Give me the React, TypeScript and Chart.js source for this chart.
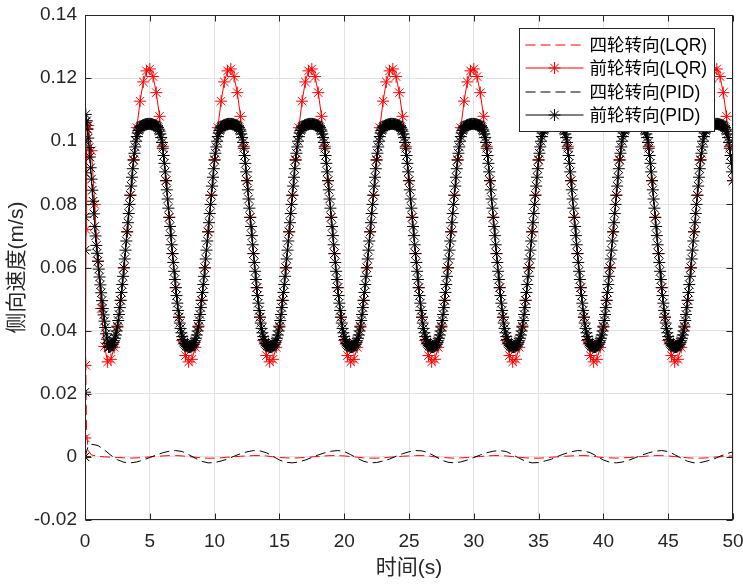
import React, { useEffect, useRef } from "react";
import { Chart, registerables } from "chart.js";

Chart.register(...registerables);

// ---------- text ----------
const seriesNames = ["四轮转向(LQR)", "前轮转向(LQR)", "四轮转向(PID)", "前轮转向(PID)"];
const seriesColors = ["#ff0000", "#ff0000", "#000000", "#000000"];
const xTitle = "时间(s)";
const yTitle = "侧向速度(m/s)";
const xTicks = [0, 5, 10, 15, 20, 25, 30, 35, 40, 45, 50];
const xTickLabels = ["0", "5", "10", "15", "20", "25", "30", "35", "40", "45", "50"];
const yTicks = [-0.02, 0, 0.02, 0.04, 0.06, 0.08, 0.1, 0.12, 0.14];
const yTickLabels = ["-0.02", "0", "0.02", "0.04", "0.06", "0.08", "0.1", "0.12", "0.14"];

// ---------- 四轮转向(LQR): red dashed ----------
const lqr4HeadTime = [0, 0.05, 0.12, 0.25];
const lqr4HeadValue = [0, 0.032, 0.008, 0.002];
const lqr4GridStart = 0.5;
const lqr4GridStep = 0.5;
const lqr4Values = [
  0.0006, 0.0002, 0.0, -0.0001, -0.0002, -0.0003,
  -0.0004, -0.0003, -0.0002, 0.0, 0.0001, 0.0003, 0.0004, 0.0004, 0.0003, 0.0001, -0.0001, -0.0003, -0.0004,
  -0.0004, -0.0003, -0.0001, 0.0, 0.0002, 0.0003, 0.0004, 0.0004, 0.0003, 0.0, -0.0002, -0.0003,
  -0.0004, -0.0003, -0.0002, 0.0, 0.0001, 0.0003, 0.0004, 0.0004, 0.0003, 0.0001, -0.0001, -0.0003, -0.0004,
  -0.0004, -0.0003, -0.0001, 0.0, 0.0002, 0.0003, 0.0004, 0.0004, 0.0003, 0.0, -0.0002, -0.0003,
  -0.0004, -0.0003, -0.0002, 0.0, 0.0001, 0.0003, 0.0004, 0.0004, 0.0003, 0.0001, -0.0001, -0.0003, -0.0004,
  -0.0004, -0.0003, -0.0001, 0.0, 0.0002, 0.0003, 0.0004, 0.0004, 0.0003, 0.0, -0.0002, -0.0003,
  -0.0004, -0.0003, -0.0002, 0.0, 0.0001, 0.0003, 0.0004, 0.0004, 0.0003, 0.0001, -0.0001, -0.0003, -0.0004,
  -0.0004, -0.0003, -0.0001, 0.0, 0.0002, 0.0003,
];

// ---------- 前轮转向(LQR): red solid with * ----------
const lqrFrontHeadTime = [0, 0.03, 0.05, 0.08, 0.12, 0.18];
const lqrFrontHeadValue = [0, 0.006, 0.029, 0.072, 0.095, 0.104];
const lqrFrontGridStart = 0.25;
const lqrFrontGridStep = 0.25;
const lqrFrontValues = [
  0.105, 0.097, 0.080, 0.062, 0.047, 0.035,
  0.0301, 0.0309, 0.0347, 0.0411, 0.0496, 0.0599, 0.0713, 0.0829, 0.0942, 0.1043, 0.1127, 0.1188, 0.1223, 0.1229, 0.1205, 0.1154, 0.1079, 0.0984,
  0.0875, 0.0759, 0.0644, 0.0536, 0.0442, 0.0369, 0.0321, 0.0301, 0.0309, 0.0347, 0.0411, 0.0496, 0.0599, 0.0713, 0.0829, 0.0942, 0.1043, 0.1127, 0.1188, 0.1223, 0.1229, 0.1205, 0.1154, 0.1079, 0.0984,
  0.0875, 0.0759, 0.0644, 0.0536, 0.0442, 0.0369, 0.0321, 0.0301, 0.0309, 0.0347, 0.0411, 0.0496, 0.0599, 0.0713, 0.0829, 0.0942, 0.1043, 0.1127, 0.1188, 0.1223, 0.1229, 0.1205, 0.1154, 0.1079, 0.0984,
  0.0875, 0.0759, 0.0644, 0.0536, 0.0442, 0.0369, 0.0321, 0.0301, 0.0309, 0.0347, 0.0411, 0.0496, 0.0599, 0.0713, 0.0829, 0.0942, 0.1043, 0.1127, 0.1188, 0.1223, 0.1229, 0.1205, 0.1154, 0.1079, 0.0984,
  0.0875, 0.0759, 0.0644, 0.0536, 0.0442, 0.0369, 0.0321, 0.0301, 0.0309, 0.0347, 0.0411, 0.0496, 0.0599, 0.0713, 0.0829, 0.0942, 0.1043, 0.1127, 0.1188, 0.1223, 0.1229, 0.1205, 0.1154, 0.1079, 0.0984,
  0.0875, 0.0759, 0.0644, 0.0536, 0.0442, 0.0369, 0.0321, 0.0301, 0.0309, 0.0347, 0.0411, 0.0496, 0.0599, 0.0713, 0.0829, 0.0942, 0.1043, 0.1127, 0.1188, 0.1223, 0.1229, 0.1205, 0.1154, 0.1079, 0.0984,
  0.0875, 0.0759, 0.0644, 0.0536, 0.0442, 0.0369, 0.0321, 0.0301, 0.0309, 0.0347, 0.0411, 0.0496, 0.0599, 0.0713, 0.0829, 0.0942, 0.1043, 0.1127, 0.1188, 0.1223, 0.1229, 0.1205, 0.1154, 0.1079, 0.0984,
  0.0875, 0.0759, 0.0644, 0.0536, 0.0442, 0.0369, 0.0321, 0.0301, 0.0309, 0.0347, 0.0411, 0.0496, 0.0599, 0.0713, 0.0829, 0.0942, 0.1043, 0.1127, 0.1188, 0.1223, 0.1229, 0.1205, 0.1154, 0.1079, 0.0984,
  0.0875,
];

// ---------- 四轮转向(PID): black dashed ----------
const pid4HeadTime = [0, 0.25];
const pid4HeadValue = [0, 0.0035];
const pid4GridStart = 0.5;
const pid4GridStep = 0.5;
const pid4Values = [
  0.0040, 0.0036, 0.0022, 0.0005, -0.0009, -0.0017,
  -0.0019, -0.0016, -0.0010, -0.0002, 0.0006, 0.0013, 0.0018, 0.0020, 0.0017, 0.0007, -0.0004, -0.0014, -0.0019,
  -0.0018, -0.0013, -0.0007, 0.0002, 0.0010, 0.0016, 0.0020, 0.0019, 0.0013, 0.0002, -0.0010, -0.0017,
  -0.0019, -0.0016, -0.0010, -0.0002, 0.0006, 0.0013, 0.0018, 0.0020, 0.0017, 0.0007, -0.0004, -0.0014, -0.0019,
  -0.0018, -0.0013, -0.0007, 0.0002, 0.0010, 0.0016, 0.0020, 0.0019, 0.0013, 0.0002, -0.0010, -0.0017,
  -0.0019, -0.0016, -0.0010, -0.0002, 0.0006, 0.0013, 0.0018, 0.0020, 0.0017, 0.0007, -0.0004, -0.0014, -0.0019,
  -0.0018, -0.0013, -0.0007, 0.0002, 0.0010, 0.0016, 0.0020, 0.0019, 0.0013, 0.0002, -0.0010, -0.0017,
  -0.0019, -0.0016, -0.0010, -0.0002, 0.0006, 0.0013, 0.0018, 0.0020, 0.0017, 0.0007, -0.0004, -0.0014, -0.0019,
  -0.0018, -0.0013, -0.0007, 0.0002, 0.0010, 0.0016,
];

// ---------- 前轮转向(PID): black solid with * ----------
const pidFrontHeadTime = [0, 0.004, 0.008, 0.012, 0.016, 0.02, 0.04];
const pidFrontHeadValue = [0, 0.0205, 0.0655, 0.076, 0.09, 0.1, 0.106];
const pidFrontGridStart = 0.0625;
const pidFrontGridStep = 0.0625;
const pidFrontValues = [
  // t = 0.0625 .. 1.75
  0.1085, 0.1065, 0.1038, 0.101, 0.098, 0.095, 0.0916, 0.088, 0.0845, 0.081, 0.077, 0.073, 0.070, 0.067,
  0.0645, 0.062, 0.0595, 0.057, 0.0545, 0.052, 0.0495, 0.047, 0.045, 0.043, 0.041, 0.039, 0.0373, 0.036,
  // t = 1.8125 .. 6.1875
  0.0348, 0.0348, 0.0349, 0.0351, 0.0354, 0.0357, 0.0362, 0.0368, 0.0376, 0.0386, 0.0399, 0.0414, 0.0432, 0.0451, 0.0473, 0.0496, 0.0521, 0.0546, 0.0572, 0.0599, 0.0627, 0.0655, 0.0684, 0.0713, 0.0742, 0.0771, 0.0800, 0.0829, 0.0858, 0.0886, 0.0913, 0.0940, 0.0962, 0.0982, 0.1000, 0.1015, 0.1026, 0.1034, 0.1039, 0.1043, 0.1046, 0.1048, 0.1050, 0.1051, 0.1052, 0.1053, 0.1054, 0.1054, 0.1055, 0.1055, 0.1055, 0.1055, 0.1055, 0.1054, 0.1054, 0.1053, 0.1052, 0.1051, 0.1050, 0.1048, 0.1046, 0.1043, 0.1038, 0.1032, 0.1023, 0.1012, 0.0996, 0.0978, 0.0955, 0.0930, 0.0903,
  // cycle 2
  0.0875, 0.0846, 0.0817, 0.0788, 0.0759, 0.0730, 0.0701, 0.0672, 0.0644, 0.0616, 0.0588, 0.0562, 0.0536, 0.0511, 0.0487, 0.0464, 0.0443, 0.0424, 0.0407, 0.0393, 0.0381, 0.0372, 0.0364, 0.0359, 0.0355, 0.0352, 0.0350, 0.0349, 0.0348,
  0.0348, 0.0348, 0.0349, 0.0351, 0.0354, 0.0357, 0.0362, 0.0368, 0.0376, 0.0386, 0.0399, 0.0414, 0.0432, 0.0451, 0.0473, 0.0496, 0.0521, 0.0546, 0.0572, 0.0599, 0.0627, 0.0655, 0.0684, 0.0713, 0.0742, 0.0771, 0.0800, 0.0829, 0.0858, 0.0886, 0.0913, 0.0940, 0.0962, 0.0982, 0.1000, 0.1015, 0.1026, 0.1034, 0.1039, 0.1043, 0.1046, 0.1048, 0.1050, 0.1051, 0.1052, 0.1053, 0.1054, 0.1054, 0.1055, 0.1055, 0.1055, 0.1055, 0.1055, 0.1054, 0.1054, 0.1053, 0.1052, 0.1051, 0.1050, 0.1048, 0.1046, 0.1043, 0.1038, 0.1032, 0.1023, 0.1012, 0.0996, 0.0978, 0.0955, 0.0930, 0.0903,
  // cycle 3
  0.0875, 0.0846, 0.0817, 0.0788, 0.0759, 0.0730, 0.0701, 0.0672, 0.0644, 0.0616, 0.0588, 0.0562, 0.0536, 0.0511, 0.0487, 0.0464, 0.0443, 0.0424, 0.0407, 0.0393, 0.0381, 0.0372, 0.0364, 0.0359, 0.0355, 0.0352, 0.0350, 0.0349, 0.0348,
  0.0348, 0.0348, 0.0349, 0.0351, 0.0354, 0.0357, 0.0362, 0.0368, 0.0376, 0.0386, 0.0399, 0.0414, 0.0432, 0.0451, 0.0473, 0.0496, 0.0521, 0.0546, 0.0572, 0.0599, 0.0627, 0.0655, 0.0684, 0.0713, 0.0742, 0.0771, 0.0800, 0.0829, 0.0858, 0.0886, 0.0913, 0.0940, 0.0962, 0.0982, 0.1000, 0.1015, 0.1026, 0.1034, 0.1039, 0.1043, 0.1046, 0.1048, 0.1050, 0.1051, 0.1052, 0.1053, 0.1054, 0.1054, 0.1055, 0.1055, 0.1055, 0.1055, 0.1055, 0.1054, 0.1054, 0.1053, 0.1052, 0.1051, 0.1050, 0.1048, 0.1046, 0.1043, 0.1038, 0.1032, 0.1023, 0.1012, 0.0996, 0.0978, 0.0955, 0.0930, 0.0903,
  // cycle 4
  0.0875, 0.0846, 0.0817, 0.0788, 0.0759, 0.0730, 0.0701, 0.0672, 0.0644, 0.0616, 0.0588, 0.0562, 0.0536, 0.0511, 0.0487, 0.0464, 0.0443, 0.0424, 0.0407, 0.0393, 0.0381, 0.0372, 0.0364, 0.0359, 0.0355, 0.0352, 0.0350, 0.0349, 0.0348,
  0.0348, 0.0348, 0.0349, 0.0351, 0.0354, 0.0357, 0.0362, 0.0368, 0.0376, 0.0386, 0.0399, 0.0414, 0.0432, 0.0451, 0.0473, 0.0496, 0.0521, 0.0546, 0.0572, 0.0599, 0.0627, 0.0655, 0.0684, 0.0713, 0.0742, 0.0771, 0.0800, 0.0829, 0.0858, 0.0886, 0.0913, 0.0940, 0.0962, 0.0982, 0.1000, 0.1015, 0.1026, 0.1034, 0.1039, 0.1043, 0.1046, 0.1048, 0.1050, 0.1051, 0.1052, 0.1053, 0.1054, 0.1054, 0.1055, 0.1055, 0.1055, 0.1055, 0.1055, 0.1054, 0.1054, 0.1053, 0.1052, 0.1051, 0.1050, 0.1048, 0.1046, 0.1043, 0.1038, 0.1032, 0.1023, 0.1012, 0.0996, 0.0978, 0.0955, 0.0930, 0.0903,
  // cycle 5
  0.0875, 0.0846, 0.0817, 0.0788, 0.0759, 0.0730, 0.0701, 0.0672, 0.0644, 0.0616, 0.0588, 0.0562, 0.0536, 0.0511, 0.0487, 0.0464, 0.0443, 0.0424, 0.0407, 0.0393, 0.0381, 0.0372, 0.0364, 0.0359, 0.0355, 0.0352, 0.0350, 0.0349, 0.0348,
  0.0348, 0.0348, 0.0349, 0.0351, 0.0354, 0.0357, 0.0362, 0.0368, 0.0376, 0.0386, 0.0399, 0.0414, 0.0432, 0.0451, 0.0473, 0.0496, 0.0521, 0.0546, 0.0572, 0.0599, 0.0627, 0.0655, 0.0684, 0.0713, 0.0742, 0.0771, 0.0800, 0.0829, 0.0858, 0.0886, 0.0913, 0.0940, 0.0962, 0.0982, 0.1000, 0.1015, 0.1026, 0.1034, 0.1039, 0.1043, 0.1046, 0.1048, 0.1050, 0.1051, 0.1052, 0.1053, 0.1054, 0.1054, 0.1055, 0.1055, 0.1055, 0.1055, 0.1055, 0.1054, 0.1054, 0.1053, 0.1052, 0.1051, 0.1050, 0.1048, 0.1046, 0.1043, 0.1038, 0.1032, 0.1023, 0.1012, 0.0996, 0.0978, 0.0955, 0.0930, 0.0903,
  // cycle 6
  0.0875, 0.0846, 0.0817, 0.0788, 0.0759, 0.0730, 0.0701, 0.0672, 0.0644, 0.0616, 0.0588, 0.0562, 0.0536, 0.0511, 0.0487, 0.0464, 0.0443, 0.0424, 0.0407, 0.0393, 0.0381, 0.0372, 0.0364, 0.0359, 0.0355, 0.0352, 0.0350, 0.0349, 0.0348,
  0.0348, 0.0348, 0.0349, 0.0351, 0.0354, 0.0357, 0.0362, 0.0368, 0.0376, 0.0386, 0.0399, 0.0414, 0.0432, 0.0451, 0.0473, 0.0496, 0.0521, 0.0546, 0.0572, 0.0599, 0.0627, 0.0655, 0.0684, 0.0713, 0.0742, 0.0771, 0.0800, 0.0829, 0.0858, 0.0886, 0.0913, 0.0940, 0.0962, 0.0982, 0.1000, 0.1015, 0.1026, 0.1034, 0.1039, 0.1043, 0.1046, 0.1048, 0.1050, 0.1051, 0.1052, 0.1053, 0.1054, 0.1054, 0.1055, 0.1055, 0.1055, 0.1055, 0.1055, 0.1054, 0.1054, 0.1053, 0.1052, 0.1051, 0.1050, 0.1048, 0.1046, 0.1043, 0.1038, 0.1032, 0.1023, 0.1012, 0.0996, 0.0978, 0.0955, 0.0930, 0.0903,
  // cycle 7
  0.0875, 0.0846, 0.0817, 0.0788, 0.0759, 0.0730, 0.0701, 0.0672, 0.0644, 0.0616, 0.0588, 0.0562, 0.0536, 0.0511, 0.0487, 0.0464, 0.0443, 0.0424, 0.0407, 0.0393, 0.0381, 0.0372, 0.0364, 0.0359, 0.0355, 0.0352, 0.0350, 0.0349, 0.0348,
  0.0348, 0.0348, 0.0349, 0.0351, 0.0354, 0.0357, 0.0362, 0.0368, 0.0376, 0.0386, 0.0399, 0.0414, 0.0432, 0.0451, 0.0473, 0.0496, 0.0521, 0.0546, 0.0572, 0.0599, 0.0627, 0.0655, 0.0684, 0.0713, 0.0742, 0.0771, 0.0800, 0.0829, 0.0858, 0.0886, 0.0913, 0.0940, 0.0962, 0.0982, 0.1000, 0.1015, 0.1026, 0.1034, 0.1039, 0.1043, 0.1046, 0.1048, 0.1050, 0.1051, 0.1052, 0.1053, 0.1054, 0.1054, 0.1055, 0.1055, 0.1055, 0.1055, 0.1055, 0.1054, 0.1054, 0.1053, 0.1052, 0.1051, 0.1050, 0.1048, 0.1046, 0.1043, 0.1038, 0.1032, 0.1023, 0.1012, 0.0996, 0.0978, 0.0955, 0.0930, 0.0903,
  // cycle 8
  0.0875, 0.0846, 0.0817, 0.0788, 0.0759, 0.0730, 0.0701, 0.0672, 0.0644, 0.0616, 0.0588, 0.0562, 0.0536, 0.0511, 0.0487, 0.0464, 0.0443, 0.0424, 0.0407, 0.0393, 0.0381, 0.0372, 0.0364, 0.0359, 0.0355, 0.0352, 0.0350, 0.0349, 0.0348,
  0.0348, 0.0348, 0.0349, 0.0351, 0.0354, 0.0357, 0.0362, 0.0368, 0.0376, 0.0386, 0.0399, 0.0414, 0.0432, 0.0451, 0.0473, 0.0496, 0.0521, 0.0546, 0.0572, 0.0599, 0.0627, 0.0655, 0.0684, 0.0713, 0.0742, 0.0771, 0.0800, 0.0829, 0.0858, 0.0886, 0.0913, 0.0940, 0.0962, 0.0982, 0.1000, 0.1015, 0.1026, 0.1034, 0.1039, 0.1043, 0.1046, 0.1048, 0.1050, 0.1051, 0.1052, 0.1053, 0.1054, 0.1054, 0.1055, 0.1055, 0.1055, 0.1055, 0.1055, 0.1054, 0.1054, 0.1053, 0.1052, 0.1051, 0.1050, 0.1048, 0.1046, 0.1043, 0.1038, 0.1032, 0.1023, 0.1012, 0.0996, 0.0978, 0.0955, 0.0930, 0.0903,
  // t = 50
  0.0875,
];

// ---------- helpers ----------
function toPoints(headT: number[], headV: number[], start: number, step: number, grid: number[]) {
  const pts = headT.map((t, i) => ({ x: t, y: headV[i] }));
  grid.forEach((v, i) => pts.push({ x: +(start + i * step).toFixed(4), y: v }));
  return pts;
}

const FONT = '"Liberation Sans", "Noto Sans CJK SC", Arial, sans-serif';
const AXIS_COLOR = "#262626";
const DASH = [10, 5];
const MARKER_R = 6;
const hasMarker = [false, true, false, true];
const isDashed = [true, false, true, false];

function drawStar(ctx: CanvasRenderingContext2D, x: number, y: number, r: number) {
  const d = r * Math.SQRT1_2;
  ctx.beginPath();
  ctx.moveTo(x - r, y); ctx.lineTo(x + r, y);
  ctx.moveTo(x, y - r); ctx.lineTo(x, y + r);
  ctx.moveTo(x - d, y - d); ctx.lineTo(x + d, y + d);
  ctx.moveTo(x - d, y + d); ctx.lineTo(x + d, y - d);
  ctx.stroke();
}

const decorPlugin = {
  id: "matlabDecor",
  afterDatasetsDraw(chart: any) {
    const { ctx, chartArea: a, scales } = chart;
    ctx.save();
    // frame
    const L = Math.round(a.left) + 0.5, R = Math.round(a.right) - 0.5;
    const T = Math.round(a.top) + 0.5, B = Math.round(a.bottom) - 0.5;
    ctx.strokeStyle = AXIS_COLOR;
    ctx.lineWidth = 1;
    ctx.setLineDash([]);
    ctx.strokeRect(L, T, R - L, B - T);
    // inward ticks
    const tl = 6;
    ctx.beginPath();
    xTicks.forEach((v) => {
      const px = Math.round(scales.x.getPixelForValue(v)) + 0.5;
      ctx.moveTo(px, B); ctx.lineTo(px, B - tl);
      ctx.moveTo(px, T); ctx.lineTo(px, T + tl);
    });
    yTicks.forEach((v) => {
      const py = Math.round(scales.y.getPixelForValue(v)) + 0.5;
      ctx.moveTo(L, py); ctx.lineTo(L + tl, py);
      ctx.moveTo(R, py); ctx.lineTo(R - tl, py);
    });
    ctx.stroke();

    // legend
    const lw = 195, lh = 103;
    const lx = Math.round(a.right) - 214 + 0.5;
    const ly = Math.round(a.top) + 13 + 0.5;
    ctx.fillStyle = "#ffffff";
    ctx.fillRect(lx, ly, lw, lh);
    ctx.strokeStyle = AXIS_COLOR;
    ctx.lineWidth = 1;
    ctx.strokeRect(lx, ly, lw, lh);
    ctx.font = `17.5px ${FONT}`;
    ctx.textBaseline = "middle";
    ctx.textAlign = "left";
    seriesNames.forEach((name, i) => {
      const cy = Math.round(ly + 16 + i * 23.6);
      ctx.strokeStyle = seriesColors[i];
      ctx.lineWidth = 1.2;
      ctx.setLineDash(isDashed[i] ? DASH : []);
      ctx.beginPath();
      ctx.moveTo(lx + 6, cy);
      ctx.lineTo(lx + 64, cy);
      ctx.stroke();
      ctx.setLineDash([]);
      ctx.lineWidth = 1;
      if (hasMarker[i]) drawStar(ctx, lx + 35, cy, MARKER_R);
      ctx.fillStyle = "#000000";
      ctx.fillText(name, lx + 70, cy + 1);
    });
    ctx.restore();
  },
};

export default function App() {
  const ref = useRef<HTMLCanvasElement | null>(null);

  useEffect(() => {
    document.body.style.margin = "0";
    const canvas = ref.current;
    if (!canvas) return;

    const series = [
      toPoints(lqr4HeadTime, lqr4HeadValue, lqr4GridStart, lqr4GridStep, lqr4Values),
      toPoints(lqrFrontHeadTime, lqrFrontHeadValue, lqrFrontGridStart, lqrFrontGridStep, lqrFrontValues),
      toPoints(pid4HeadTime, pid4HeadValue, pid4GridStart, pid4GridStep, pid4Values),
      toPoints(pidFrontHeadTime, pidFrontHeadValue, pidFrontGridStart, pidFrontGridStep, pidFrontValues),
    ];

    const datasets: any[] = series.map((data, i) => ({
      label: seriesNames[i],
      data,
      borderColor: seriesColors[i],
      backgroundColor: seriesColors[i],
      borderWidth: 1,
      borderDash: isDashed[i] ? DASH : [],
      pointStyle: "star",
      pointRadius: hasMarker[i] ? MARKER_R : 0,
      pointBorderColor: seriesColors[i],
      pointBorderWidth: 1,
      order: 4 - i,
    }));

    const chart = new Chart(canvas, {
      type: "line",
      data: { datasets },
      plugins: [decorPlugin],
      options: {
        animation: false,
        responsive: false,
        devicePixelRatio: 1,
        events: [],
        layout: { padding: { left: 0, right: 0, top: 15, bottom: 0 } },
        elements: { line: { tension: 0, fill: false } },
        plugins: { legend: { display: false }, tooltip: { enabled: false } },
        scales: {
          x: {
            type: "linear",
            min: 0,
            max: 50,
            afterBuildTicks: (s: any) => { s.ticks = xTicks.map((v) => ({ value: v })); },
            afterFit: (s: any) => { s.height = 67; s.paddingLeft = 0; s.paddingRight = 10; },
            ticks: {
              autoSkip: false,
              maxRotation: 0,
              padding: 10,
              color: AXIS_COLOR,
              font: { family: FONT, size: 19 },
              callback: (v: any) => xTickLabels[xTicks.indexOf(Number(v))] ?? "",
            },
            grid: { color: "#e3e3e3", lineWidth: 1, drawTicks: false },
            border: { display: false },
            title: {
              display: true,
              text: xTitle,
              color: AXIS_COLOR,
              font: { family: FONT, size: 21 },
              padding: { top: 0, bottom: 6 },
            },
          },
          y: {
            type: "linear",
            min: -0.02,
            max: 0.14,
            afterBuildTicks: (s: any) => { s.ticks = yTicks.map((v) => ({ value: v })); },
            afterFit: (s: any) => { s.width = 85; s.paddingTop = 0; s.paddingBottom = 0; },
            ticks: {
              padding: 8,
              color: AXIS_COLOR,
              font: { family: FONT, size: 19 },
              callback: (v: any) => yTickLabels[yTicks.indexOf(Number(v))] ?? "",
            },
            grid: { color: "#e3e3e3", lineWidth: 1, drawTicks: false },
            border: { display: false },
            title: {
              display: true,
              text: yTitle,
              color: AXIS_COLOR,
              font: { family: FONT, size: 21 },
              padding: { top: 5, bottom: 0 },
            },
          },
        },
      },
    });
    return () => chart.destroy();
  }, []);

  return (
    <canvas
      ref={ref}
      width={743}
      height={587}
      style={{ display: "block", position: "absolute", left: 0, top: 0, width: 743, height: 587 }}
    />
  );
}
